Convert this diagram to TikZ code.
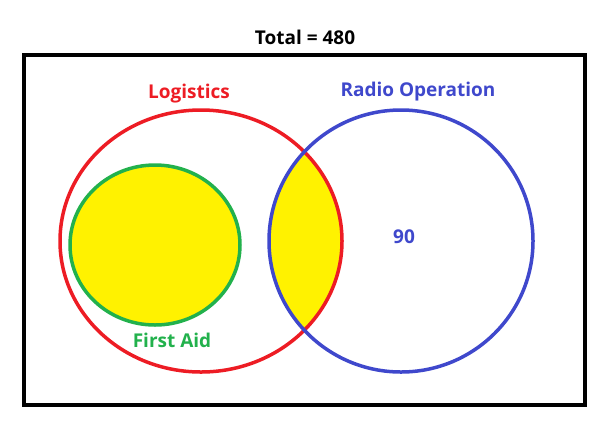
\documentclass[tikz,border=0pt]{standalone}
\usepackage{fontspec}
\setmainfont{Open Sans}
\definecolor{logred}{HTML}{ED1C24}
\definecolor{radblue}{HTML}{3F48CC}
\definecolor{aidgreen}{HTML}{22B14C}
\definecolor{venyel}{HTML}{FFF200}
\tikzset{
  lbl/.style={font=\fontsize{19}{22}\selectfont\bfseries},
  ring/.style={line width=3.5pt}
}
\begin{document}
\begin{tikzpicture}[x=1pt,y=-1pt]
  \useasboundingbox (0,0) rectangle (609,424);
  % shaded regions
  \begin{scope}
    \clip (201,241) ellipse [x radius=141, y radius=131];
    \fill[venyel] (401,241) ellipse [x radius=132, y radius=131];
  \end{scope}
  \fill[venyel] (155,245) ellipse [x radius=85, y radius=80];
  % outlines
  \draw[line width=4pt] (24,55) rectangle (585,405);
  \draw[ring,logred] (201,241) ellipse [x radius=141, y radius=131];
  \draw[ring,radblue] (401,241) ellipse [x radius=132, y radius=131];
  \draw[ring,aidgreen] (155,245) ellipse [x radius=85, y radius=80];
  % labels
  \node[lbl] (total) at (305,37) {Total = 480};
  \node[lbl,logred] (logistics) at (189,94) {Logistics};
  \node[lbl,radblue] (radio) at (418,92) {Radio Operation};
  \node[lbl,radblue] (ninety) at (404,237) {90};
  \node[lbl,aidgreen] (firstaid) at (172,340) {First Aid};
\end{tikzpicture}
\end{document}
